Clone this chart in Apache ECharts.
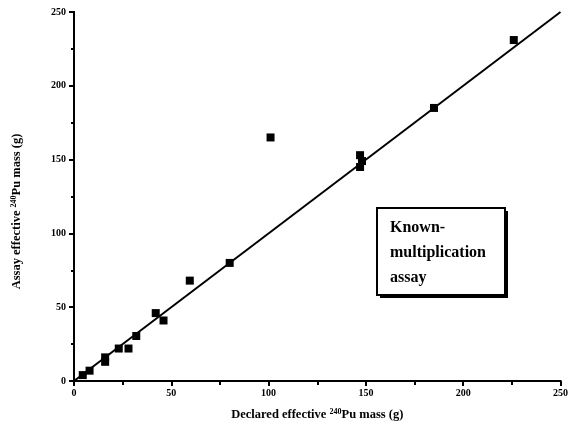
<!DOCTYPE html>
<html><head><meta charset="utf-8">
<script src="https://cdn.jsdelivr.net/npm/echarts@6/dist/echarts.min.js"></script>
<style>html,body{margin:0;padding:0;background:#fff}#c{width:571px;height:429px}</style>
</head><body><div id="c"></div>
<script>
// Declared (x) vs assay (y) effective 240Pu mass, g
var declared = [4.5, 8, 16, 16, 23, 28, 32, 42, 46, 59.5, 80, 101, 147, 148, 147, 185, 226];
var assay    = [4,   7, 13, 16, 22, 22, 30.5, 46, 41, 68, 80, 165, 145, 149, 153, 185, 231];
var lineX = [0, 250];
var lineY = [0, 250];
var ticks = [0, 50, 100, 150, 200, 250];

var pts = declared.map(function(v, i){ return [v, assay[i]]; });
var linePts = lineX.map(function(v, i){ return [v, lineY[i]]; });
var F = 'Liberation Serif';
var chart = echarts.init(document.getElementById('c'));
chart.setOption({
  animation: false,
  grid: {left: 74, right: 5, top: 12, bottom: 48},
  xAxis: [{
    type: 'value', min: ticks[0], max: ticks[ticks.length-1], interval: 50,
    name: '{b|Declared effective }{s|240}{b|Pu mass (g)}',
    nameLocation: 'middle', nameGap: 27,
    nameTextStyle: {rich: {
      b: {fontFamily: F, fontWeight: 'bold', fontSize: 12.5, color: '#000'},
      s: {fontFamily: F, fontWeight: 'bold', fontSize: 8, color: '#000', verticalAlign: 'top', padding: [0,0,6,0]}}},
    axisLine: {lineStyle: {color: '#000', width: 2}},
    axisTick: {inside: false, length: 5, lineStyle: {color: '#000', width: 2}},
    minorTick: {show: true, splitNumber: 2, length: 4, lineStyle: {color: '#000', width: 2}},
    axisLabel: {fontFamily: F, fontWeight: 'bold', fontSize: 10, color: '#000', margin: 7},
    splitLine: {show: false}
  }, {
    type: 'value', position: 'top', min: 0, max: 250, interval: 50,
    axisLine: {lineStyle: {color: '#000', width: 2}},
    axisTick: {inside: true, length: 4, lineStyle: {color: '#000', width: 2}},
    axisLabel: {show: false}, splitLine: {show: false}
  }],
  yAxis: [{
    type: 'value', min: ticks[0], max: ticks[ticks.length-1], interval: 50,
    name: '{b|Assay effective }{s|240}{b|Pu mass (g)}',
    nameLocation: 'middle', nameGap: 50,
    nameTextStyle: {padding: [0, 30, 0, 0], rich: {
      b: {fontFamily: F, fontWeight: 'bold', fontSize: 12.5, color: '#000'},
      s: {fontFamily: F, fontWeight: 'bold', fontSize: 8, color: '#000', verticalAlign: 'top', padding: [0,0,6,0]}}},
    axisLine: {lineStyle: {color: '#000', width: 2}},
    axisTick: {inside: false, length: 5, lineStyle: {color: '#000', width: 2}},
    minorTick: {show: true, splitNumber: 2, length: 3, lineStyle: {color: '#000', width: 2}},
    axisLabel: {fontFamily: F, fontWeight: 'bold', fontSize: 10, color: '#000', margin: 8},
    splitLine: {show: false}
  }, {
    type: 'value', position: 'right', min: 0, max: 250, interval: 50,
    axisLine: {lineStyle: {color: '#000', width: 2}},
    axisTick: {inside: true, length: 4, lineStyle: {color: '#000', width: 2}},
    axisLabel: {show: false}, splitLine: {show: false}
  }],
  series: [{
    type: 'line', data: linePts, symbol: 'none',
    lineStyle: {color: '#000', width: 2}, z: 2
  }, {
    type: 'scatter', data: pts, symbol: 'rect', symbolSize: 8,
    itemStyle: {color: '#000', opacity: 1}, z: 3
  }],
  graphic: [{
    type: 'rect', shape: {x: 380, y: 211, width: 128, height: 87}, style: {fill: '#000'}
  }, {
    type: 'rect', shape: {x: 377, y: 208, width: 128, height: 87},
    style: {fill: '#fff', stroke: '#000', lineWidth: 2}
  }, {
    type: 'text', left: 390, top: 215,
    style: {text: 'Known-\nmultiplication\nassay', font: 'bold 16px "Liberation Serif"', fill: '#000', lineHeight: 25}
  }]
});
</script></body></html>
